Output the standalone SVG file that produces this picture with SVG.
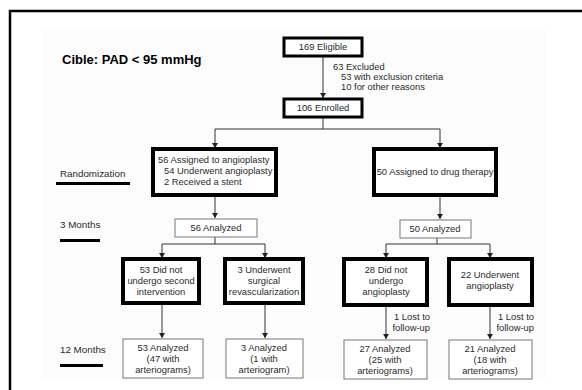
<svg xmlns="http://www.w3.org/2000/svg" width="582" height="390" viewBox="0 0 582 390">
<style>
text{font-family:"Liberation Sans",Arial,sans-serif;font-size:9.4px;fill:#2a2a2a}
.c{text-anchor:middle}
.e{text-anchor:end}
.lab{font-size:9.8px}
.title{font-size:13px;font-weight:bold;fill:#000}
.thick{fill:#fff;stroke:#000;stroke-width:4}
.mid{fill:#fff;stroke:#000;stroke-width:3}
.thin{fill:#fff;stroke:#777;stroke-width:1}
.ln{fill:none;stroke:#333;stroke-width:1}
.bar{fill:#000}
</style>
<defs>
<marker id="ah" markerWidth="6" markerHeight="8" refX="5" refY="4" orient="auto" markerUnits="userSpaceOnUse">
<path d="M0,1 L5,4 L0,7 Z" fill="#222"/>
</marker>
</defs>
<rect width="582" height="390" fill="#fff"/>
<rect x="42" y="29" width="504" height="351" fill="#fcfcfc"/>
<path d="M10,390 V11 H582" fill="none" stroke="#000" stroke-width="2.5"/>
<text class="title" x="62" y="64">Cible: PAD &lt; 95 mmHg</text>
<g id="label-randomization"><text class="lab" x="60" y="177">Randomization</text><rect class="bar" x="56" y="182" width="74" height="3"/></g>
<g id="label-3months"><text class="lab" x="60" y="228">3 Months</text><rect class="bar" x="60" y="239" width="40" height="3"/></g>
<g id="label-12months"><text class="lab" x="60" y="353">12 Months</text><rect class="bar" x="60" y="364" width="43" height="3"/></g>
<g id="connectors">
<path class="ln" d="M323,56 V98" marker-end="url(#ah)"/>
<path class="ln" d="M323,118 V129 H215 V148" marker-end="url(#ah)"/>
<path class="ln" d="M323,129 H440 V148" marker-end="url(#ah)"/>
<path class="ln" d="M215,195 V218" marker-end="url(#ah)"/>
<path class="ln" d="M440,195 V219" marker-end="url(#ah)"/>
<path class="ln" d="M215,237 V244 H162 V258" marker-end="url(#ah)"/>
<path class="ln" d="M215,244 H265 V258" marker-end="url(#ah)"/>
<path class="ln" d="M437,238 V244 H386 V258" marker-end="url(#ah)"/>
<path class="ln" d="M437,244 H490 V258" marker-end="url(#ah)"/>
<path class="ln" d="M162,303 V338" marker-end="url(#ah)"/>
<path class="ln" d="M265,303 V338" marker-end="url(#ah)"/>
<path class="ln" d="M386,305 V339" marker-end="url(#ah)"/>
<path class="ln" d="M490,305 V339" marker-end="url(#ah)"/>
<text x="333" y="70">63 Excluded</text>
<text x="341" y="80">53 with exclusion criteria</text>
<text x="341" y="90">10 for other reasons</text>
<text class="e" x="430" y="320">1 Lost to</text>
<text class="e" x="430" y="331">follow-up</text>
<text class="e" x="534" y="320">1 Lost to</text>
<text class="e" x="534" y="331">follow-up</text>
</g>
<g id="eligible"><rect class="mid" x="284" y="38" width="78" height="18"/><text class="c" x="323" y="50">169 Eligible</text></g>
<g id="enrolled"><rect class="mid" x="284" y="99" width="78" height="18"/><text class="c" x="323" y="111">106 Enrolled</text></g>
<g id="angioplasty"><rect class="thick" x="153" y="149" width="123" height="46"/>
<text x="158" y="163">56 Assigned to angioplasty</text><text x="164" y="174">54 Underwent angioplasty</text><text x="164" y="185">2 Received a stent</text></g>
<g id="drug"><rect class="thick" x="374" y="149" width="122" height="46"/><text class="c" x="435" y="175">50 Assigned to drug therapy</text></g>
<g id="analyzed56"><rect class="thin" x="175" y="219" width="82" height="18"/><text class="c" x="216" y="231">56 Analyzed</text></g>
<g id="analyzed50"><rect class="thin" x="400" y="220" width="71" height="18"/><text class="c" x="435" y="232">50 Analyzed</text></g>
<g id="no-second"><rect class="thick" x="123" y="259" width="76" height="44"/>
<text class="c" x="161" y="273">53 Did not</text><text class="c" x="161" y="284">undergo second</text><text class="c" x="161" y="295">intervention</text></g>
<g id="surgical"><rect class="thick" x="225" y="259" width="78" height="44"/>
<text class="c" x="264" y="273">3 Underwent</text><text class="c" x="264" y="284">surgical</text><text class="c" x="264" y="295">revascularization</text></g>
<g id="no-angio"><rect class="thick" x="344" y="259" width="83" height="46"/>
<text class="c" x="386" y="273">28 Did not</text><text class="c" x="386" y="284">undergo</text><text class="c" x="386" y="295">angioplasty</text></g>
<g id="underwent-angio"><rect class="thick" x="449" y="259" width="83" height="46"/>
<text class="c" x="490" y="278">22 Underwent</text><text class="c" x="490" y="289">angioplasty</text></g>
<g id="r53"><rect class="thin" x="123" y="339" width="80" height="39"/>
<text class="c" x="163" y="351">53 Analyzed</text><text class="c" x="163" y="362">(47 with</text><text class="c" x="163" y="373">arteriograms)</text></g>
<g id="r3"><rect class="thin" x="226" y="339" width="77" height="39"/>
<text class="c" x="264" y="351">3 Analyzed</text><text class="c" x="264" y="362">(1 with</text><text class="c" x="264" y="373">arteriogram)</text></g>
<g id="r27"><rect class="thin" x="344" y="340" width="83" height="39"/>
<text class="c" x="385" y="352">27 Analyzed</text><text class="c" x="385" y="363">(25 with</text><text class="c" x="385" y="374">arteriograms)</text></g>
<g id="r21"><rect class="thin" x="449" y="340" width="83" height="39"/>
<text class="c" x="490" y="352">21 Analyzed</text><text class="c" x="490" y="363">(18 with</text><text class="c" x="490" y="374">arteriograms)</text></g>
</svg>
